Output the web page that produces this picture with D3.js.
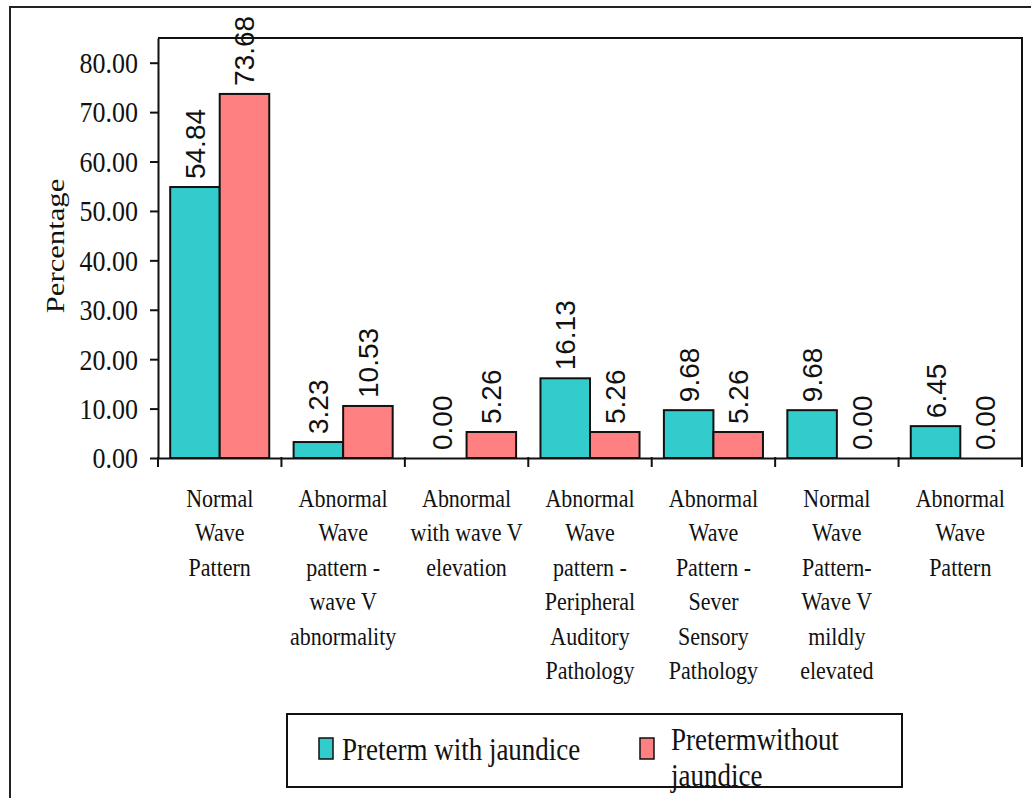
<!DOCTYPE html>
<html>
<head>
<meta charset="utf-8">
<script src="https://cdn.jsdelivr.net/npm/d3@7"></script>
<style>
  html, body { margin: 0; padding: 0; background: #fff; }
  svg { display: block; }
  text { fill: #111; }
</style>
</head>
<body>
<svg id="chart" width="1031" height="798"></svg>
<script>
// ABR wave pattern categories (each label is broken over several lines)
const categories = [
  "Normal\nWave\nPattern",
  "Abnormal\nWave\npattern -\nwave V\nabnormality",
  "Abnormal\nwith wave V\nelevation",
  "Abnormal\nWave\npattern -\nPeripheral\nAuditory\nPathology",
  "Abnormal\nWave\nPattern -\nSever\nSensory\nPathology",
  "Normal\nWave\nPattern-\nWave V\nmildly\nelevated",
  "Abnormal\nWave\nPattern"
];
const seriesNames = ["Preterm with jaundice", "Pretermwithout\njaundice"];
const withJaundice    = [54.84, 3.23, 0.00, 16.13, 9.68, 9.68, 6.45];
const withoutJaundice = [73.68, 10.53, 5.26, 5.26, 5.26, 0.00, 0.00];
const yTicks = [0, 10, 20, 30, 40, 50, 60, 70, 80];
const seriesColors = ["#33CCCC", "#FF8080"];

const series = [withJaundice, withoutJaundice];
const fmt = d3.format(".2f");
const serif = "'Liberation Serif', 'Times New Roman', serif";
const sans = "'Liberation Sans', Arial, sans-serif";
const K = 1.18; // vertical stretch applied to serif text

const svg = d3.select("#chart");
const plot = { left: 158, right: 1022, top: 38, bottom: 458 };

// outer chart border
svg.append("rect")
  .attr("x", 10).attr("y", 7).attr("width", 1100).attr("height", 900)
  .attr("fill", "none").attr("stroke", "#222").attr("stroke-width", 2);

const y = d3.scaleLinear().domain([0, 85]).range([plot.bottom, plot.top]);
const x = d3.scaleBand().domain(d3.range(categories.length))
  .range([plot.left, plot.right]).padding(0);
const xs = d3.scaleBand().domain(d3.range(series.length))
  .range([0, x.bandwidth()]).paddingInner(0).paddingOuter(0.246);

// plot area frame (top and right edges)
svg.append("path")
  .attr("d", d3.line()([[plot.left, plot.top], [plot.right, plot.top], [plot.right, plot.bottom]]))
  .attr("fill", "none").attr("stroke", "#111").attr("stroke-width", 2);

// bars
const groups = svg.append("g").selectAll("g")
  .data(categories.map((c, i) => i))
  .join("g")
  .attr("transform", i => `translate(${x(i)},0)`);

groups.selectAll("rect")
  .data(i => series.map((s, k) => ({ k, v: s[i] })).filter(d => d.v > 0))
  .join("rect")
  .attr("x", d => xs(d.k))
  .attr("width", xs.bandwidth())
  .attr("y", d => y(d.v))
  .attr("height", d => y(0) - y(d.v))
  .attr("fill", d => seriesColors[d.k])
  .attr("stroke", "#111")
  .attr("stroke-width", 2);

// value labels, rotated
groups.selectAll("text.value")
  .data(i => series.map((s, k) => ({ k, v: s[i] })))
  .join("text")
  .attr("class", "value")
  .attr("transform", d => `translate(${xs(d.k) + xs.bandwidth() / 2 + 10},${y(d.v) - 8}) rotate(-90)`)
  .attr("font-family", sans)
  .attr("font-size", 28)
  .text(d => fmt(d.v));

// y axis
const yAxis = svg.append("g")
  .attr("transform", `translate(${plot.left},0)`)
  .call(d3.axisLeft(y).tickValues(yTicks).tickFormat(fmt).tickSize(8).tickSizeOuter(0).tickPadding(12));
yAxis.select(".domain").attr("stroke", "#111").attr("stroke-width", 2);
yAxis.selectAll(".tick line").attr("stroke", "#111").attr("stroke-width", 2);
yAxis.selectAll(".tick text")
  .attr("font-family", serif)
  .attr("font-size", 26)
  .attr("fill", "#111")
  .attr("dy", "0.33em")
  .attr("transform", `scale(1,${K - 0.03})`);

// x axis line with ticks at category boundaries
const xAxis = svg.append("g")
  .attr("transform", `translate(0,${plot.bottom})`)
  .call(d3.axisBottom(x).tickSize(0).tickSizeOuter(0).tickFormat(""));
xAxis.select(".domain").attr("stroke", "#111").attr("stroke-width", 2);
const bounds = categories.map((c, i) => x(i)).concat([x.range()[1]]);
xAxis.selectAll("line.bound")
  .data(bounds)
  .join("line")
  .attr("class", "bound")
  .attr("x1", d => d).attr("x2", d => d)
  .attr("y1", -1).attr("y2", 9)
  .attr("stroke", "#111").attr("stroke-width", 2);

// category labels
const catLabels = svg.append("g").selectAll("text")
  .data(categories)
  .join("text")
  .attr("transform", (c, i) => `translate(${x(i) + x.bandwidth() / 2},507) scale(1,${K})`)
  .attr("text-anchor", "middle")
  .attr("font-family", serif)
  .attr("font-size", 22);
catLabels.selectAll("tspan")
  .data(c => c.split("\n"))
  .join("tspan")
  .attr("x", 0)
  .attr("dy", (d, j) => j === 0 ? 0 : 34.4 / K)
  .text(d => d);

// y axis title
svg.append("text")
  .attr("transform", `translate(64,246) scale(1,${K}) rotate(-90)`)
  .attr("text-anchor", "middle")
  .attr("font-family", serif)
  .attr("font-size", 26)
  .text("Percentage");

// legend
const legend = svg.append("g");
legend.append("rect")
  .attr("x", 287).attr("y", 714).attr("width", 615).attr("height", 73)
  .attr("fill", "#fff").attr("stroke", "#111").attr("stroke-width", 2);

const legendItems = [
  { key: 319, text: 342, baseline: 760 },
  { key: 640, text: 671, baseline: 750 }
];
legend.selectAll("rect.key")
  .data(seriesNames)
  .join("rect")
  .attr("class", "key")
  .attr("x", (d, i) => legendItems[i].key)
  .attr("y", 738).attr("width", 14).attr("height", 21)
  .attr("fill", (d, i) => seriesColors[i])
  .attr("stroke", "#111").attr("stroke-width", 1.5);

const legendText = legend.selectAll("text")
  .data(seriesNames)
  .join("text")
  .attr("transform", (d, i) => `translate(${legendItems[i].text},${legendItems[i].baseline}) scale(1,${K - 0.03})`)
  .attr("font-family", serif)
  .attr("font-size", 27);
legendText.selectAll("tspan")
  .data(d => d.split("\n"))
  .join("tspan")
  .attr("x", 0)
  .attr("dy", (d, j) => j === 0 ? 0 : 36 / (K - 0.03))
  .text(d => d);
</script>
</body>
</html>
